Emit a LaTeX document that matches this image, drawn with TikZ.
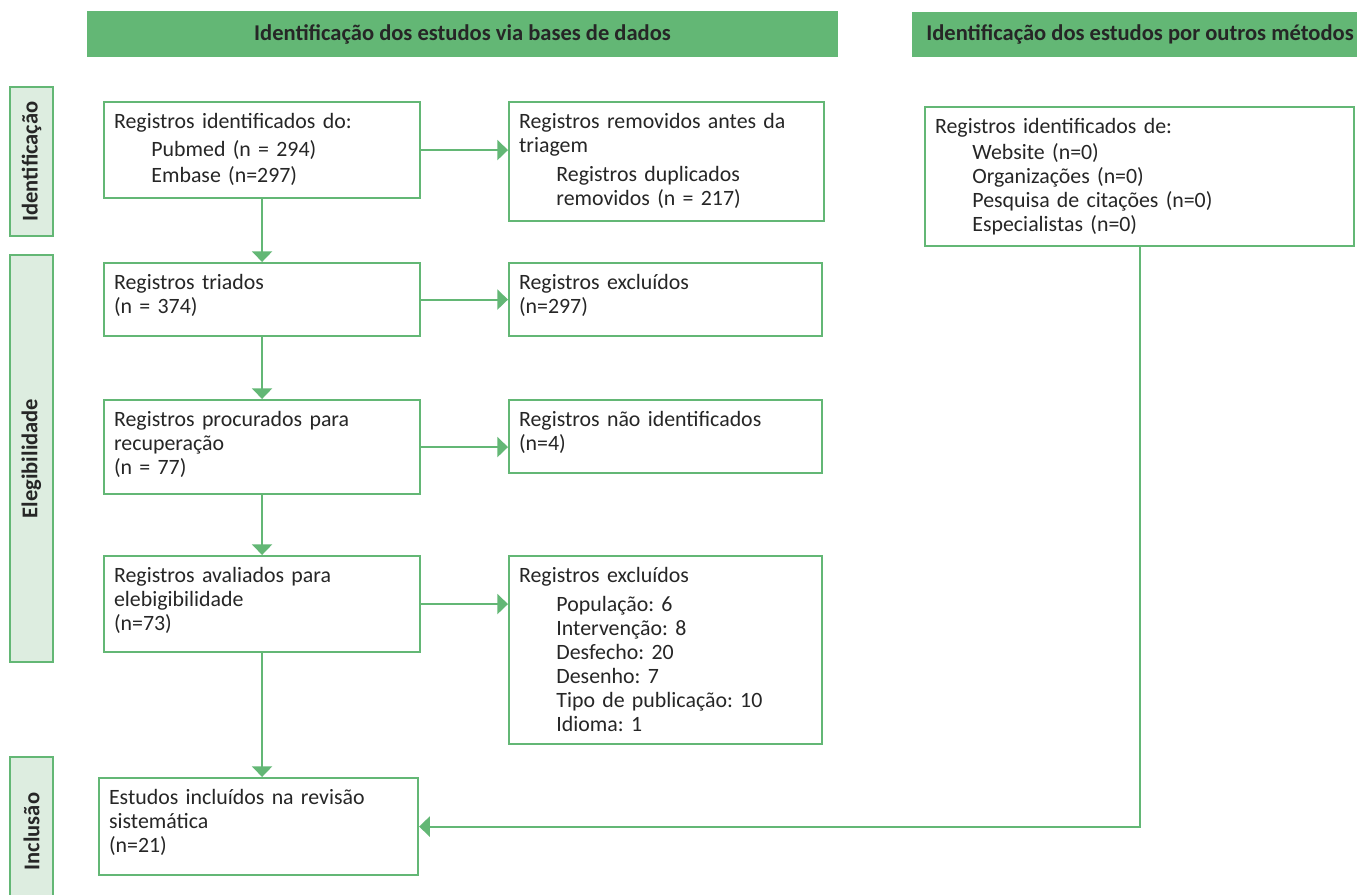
\documentclass[tikz,border=0pt]{standalone}
\usepackage{fontspec}
\setmainfont{Carlito}
\usetikzlibrary{arrows.meta, positioning}
\definecolor{prismagreen}{RGB}{99, 183, 117}
\definecolor{phasefill}{RGB}{221, 237, 224}
\definecolor{inktext}{RGB}{38, 38, 38}
\newcommand{\subline}{\hspace*{28pt}}
\frenchspacing

\tikzset{
  headbar/.style={fill=prismagreen, text=inktext, inner sep=0pt,
    font=\fontsize{16.9}{20}\selectfont\bfseries},
  phasebox/.style={draw=prismagreen, line width=1.6pt, fill=phasefill, rotate=90,
    minimum height=43*0.75pt, inner sep=0pt, text=inktext,
    font=\fontsize{16.9}{20}\selectfont\bfseries},
  recbox/.style 2 args={draw=prismagreen, line width=1.6pt, fill=white,
    anchor=north west, align=left, inner xsep=7.5pt, inner ysep=0pt,
    text width=#1*0.75pt-15pt, text height=19.5pt, text depth=#2*0.75pt-19.5pt,
    text=inktext, font=\fontsize{16.4}{18}\selectfont},
  flow/.style={draw=prismagreen, line width=1.6pt, -{Triangle[length=8pt, width=15pt]}},
}

\begin{document}
\begin{tikzpicture}[x=0.75pt, y=-0.75pt]
  \useasboundingbox (0,0) rectangle (1357,895);
  \fill[white] (0,0) rectangle (1357,895);

  % headers
  \node[headbar, minimum width=751*0.75pt, minimum height=46*0.75pt] (dbhead) at (462.5,34) {Identificação dos estudos via bases de dados};
  \node[headbar, minimum width=456*0.75pt, minimum height=45*0.75pt] (otherhead) at (1140,34.5) {Identificação dos estudos por outros métodos};

  % phases
  \node[phasebox, minimum width=149*0.75pt] (phid) at (31.5,161.5) {Identificação};
  \node[phasebox, minimum width=407*0.75pt] (phel) at (31.5,458.5) {Elegibilidade};
  \node[phasebox, minimum width=149*0.75pt] (phin) at (31.5,831.5) {Inclusão};

  % databases column
  \node[recbox={316}{96}] (identified) at (103,101) {Registros identificados do:\\[3pt]
    \subline Pubmed (n = 294)\\[2pt]
    \subline Embase (n=297)};
  \node[recbox={315}{119}] (removed) at (508,101) {Registros removidos antes da\\
    triagem\\[4pt]
    \subline Registros duplicados\\
    \subline removidos (n = 217)};
  \node[recbox={316}{73}] (screened) at (103,262) {Registros triados\\(n = 374)};
  \node[recbox={313}{73}] (excluded) at (508,262) {Registros excluídos\\(n=297)};
  \node[recbox={316}{94}] (sought) at (103,399) {Registros procurados para\\recuperação\\(n = 77)};
  \node[recbox={313}{73}] (notfound) at (508,399) {Registros não identificados\\(n=4)};
  \node[recbox={316}{96}] (assessed) at (103,555) {Registros avaliados para\\elebigibilidade\\(n=73)};
  \node[recbox={313}{188}] (reasons) at (508,555) {Registros excluídos\\[4pt]
    \subline População: 6\\
    \subline Intervenção: 8\\
    \subline Desfecho: 20\\
    \subline Desenho: 7\\
    \subline Tipo de publicação: 10\\
    \subline Idioma: 1};
  \node[recbox={319}{97}] (included) at (98,777) {Estudos incluídos na revisão\\sistemática\\(n=21)};

  % other methods column
  \node[recbox={429}{139}] (othersrc) at (924,106) {Registros identificados de:\\[2pt]
    \subline Website (n=0)\\
    \subline Organizações (n=0)\\
    \subline Pesquisa de citações (n=0)\\
    \subline Especialistas (n=0)};

  % connectors
  \draw[flow] (identified.east) -- (identified.east -| removed.west);
  \draw[flow] (screened.east) -- (screened.east -| excluded.west);
  \draw[flow] (sought.east) -- (sought.east -| notfound.west);
  \draw[flow] (assessed.east) -- (assessed.east -| reasons.west);
  \draw[flow] (identified.south) -- (screened.north);
  \draw[flow] (screened.south) -- (sought.north);
  \draw[flow] (sought.south) -- (assessed.north);
  \draw[flow] (assessed.south) -- (assessed.south |- included.north);
  \draw[flow] (othersrc.south) |- (included.east);
\end{tikzpicture}
\end{document}
